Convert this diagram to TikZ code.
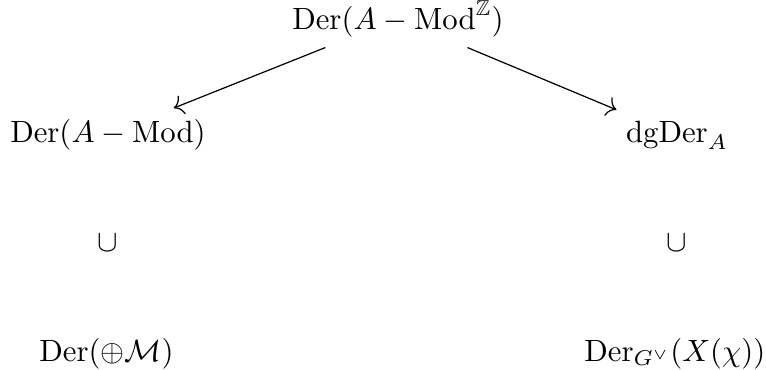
\documentclass[tikz,border=0pt]{standalone}
\usepackage{amssymb}
\usetikzlibrary{arrows.meta}
\begin{document}
\begin{tikzpicture}[x=0.325pt,y=-0.325pt,
  lbl/.style={anchor=base,inner sep=3.33pt},
  arr/.style={-{To[length=3pt,width=6.5pt]},line width=0.4pt}]
\useasboundingbox (0,0) rectangle (766,370);
\node[lbl] (top) at (398,29) {$\mathrm{Der}(A-\mathrm{Mod}^{\mathbb{Z}})$};
\node[lbl] (l) at (108,142) {$\mathrm{Der}(A-\mathrm{Mod})$};
\node[lbl] (r) at (677,142) {$\mathrm{dgDer}_A$};
\node[lbl] (cl) at (107.5,251) {$\cup$};
\node[lbl] (cr) at (677,251) {$\cup$};
\node[lbl] (bl) at (106.5,361) {$\mathrm{Der}(\oplus\mathcal{M})$};
\node[lbl,anchor=base east,inner xsep=0pt] (br) at (766,361) {$\mathrm{Der}_{G^\vee}(X(\chi))$};
\draw[arr] (top) -- (l);
\draw[arr] (top) -- (r);
\end{tikzpicture}
\end{document}
